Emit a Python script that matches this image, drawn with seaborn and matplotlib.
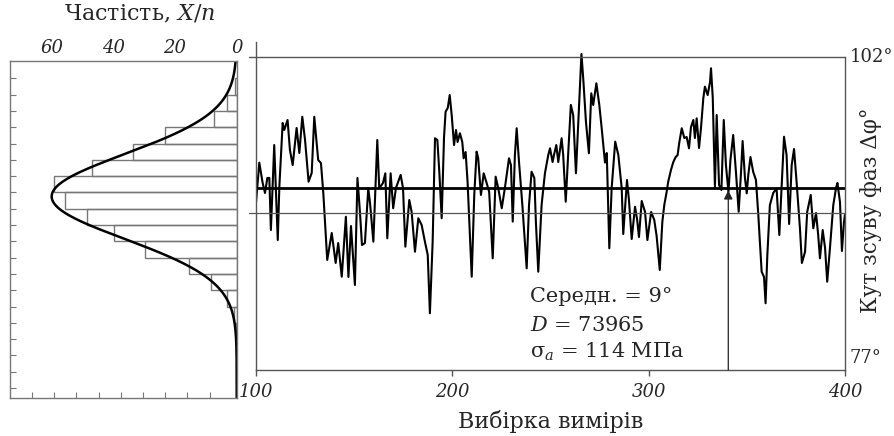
import numpy as np
import pandas as pd
import matplotlib
matplotlib.use("Agg")
import matplotlib.pyplot as plt
import matplotlib.transforms as mtransforms
import seaborn as sns

# ---------------- data ----------------
sample_idx = [100.0, 101.7, 103.4, 104.6, 105.8, 106.8, 107.6, 109.3, 111.1, 111.9,
              113.6, 114.4, 116.1, 117.3, 118.7, 120.7, 122.1, 123.6, 125.0, 126.8,
              128.4, 129.7, 131.7, 133.1, 134.3, 136.3, 138.6, 140.6, 141.9, 143.7,
              145.8, 147.1, 148.4, 150.4, 151.7, 153.0, 154.0, 155.5, 157.2, 158.1,
              159.8, 161.8, 162.8, 164.7, 165.9, 166.9, 168.6, 169.9, 171.3, 173.7,
              174.9, 176.1, 178.1, 179.3, 181.0, 182.7, 184.4, 186.1, 187.5, 188.6,
              190.0, 191.2, 192.4, 193.4, 194.6, 195.8, 196.6, 197.7, 198.7, 199.7,
              200.9, 201.9, 202.7, 203.9, 205.1, 205.8, 206.8, 207.8, 208.7, 209.9,
              211.2, 212.4, 213.2, 214.6, 216.0, 217.5, 218.8, 220.6, 222.1, 223.4,
              225.2, 226.8, 228.9, 229.9, 230.8, 231.9, 232.8, 234.0, 235.7, 237.9,
              239.1, 240.4, 241.8, 242.6, 243.8, 245.5, 247.2, 248.9, 249.8, 251.1,
              251.8, 253.0, 254.0, 255.7, 256.5, 257.8, 259.1, 260.4, 261.6, 263.0,
              264.2, 265.8, 266.7, 268.1, 269.6, 270.8, 271.8, 273.4, 274.9, 276.1,
              277.8, 278.7, 280.0, 281.2, 283.0, 284.6, 286.3, 287.1, 289.0, 290.0,
              291.4, 293.1, 294.2, 295.1, 296.5, 298.2, 299.4, 301.3, 302.9, 304.1,
              305.7, 307.0, 308.0, 309.2, 310.0, 311.4, 312.6, 313.8, 314.8, 315.6,
              316.9, 318.2, 319.4, 320.6, 321.6, 322.8, 323.6, 324.5, 325.7, 326.7,
              327.9, 328.7, 330.1, 331.3, 331.8, 332.7, 333.8, 334.7, 335.9, 337.1,
              338.3, 339.4, 340.7, 341.7, 343.1, 344.5, 345.9, 347.1, 347.9, 349.1,
              350.0, 350.8, 351.9, 353.3, 354.7, 355.9, 357.6, 358.8, 359.6, 360.5,
              361.8, 363.5, 365.2, 366.6, 367.8, 369.0, 370.3, 371.6, 372.9, 374.1,
              375.4, 377.1, 378.1, 379.7, 380.8, 382.6, 383.9, 385.3, 386.4, 387.3,
              388.7, 389.9, 391.0, 392.4, 394.1, 395.5, 396.2, 397.5, 398.5, 399.5, 400.0]

phase_deg = [90.34, 93.56, 91.94, 91.14, 92.34, 92.34, 88.18, 94.97, 87.38, 91.62,
             96.73, 96.17, 96.97, 94.57, 93.37, 96.33, 94.33, 97.23, 95.37, 92.04,
             92.74, 97.23, 93.77, 93.53, 91.14, 85.79, 87.94, 85.55, 87.14, 84.45,
             89.24, 84.43, 88.50, 83.79, 92.34, 89.54, 86.98, 87.14, 91.51, 90.34,
             87.25, 95.37, 91.51, 91.94, 92.71, 87.52, 92.71, 89.92, 91.54, 92.58,
             91.54, 86.85, 90.58, 89.62, 86.45, 89.12, 88.58, 87.22, 86.19, 81.53,
             87.22, 95.51, 95.37, 92.82, 89.12, 95.61, 97.63, 97.93, 98.96, 97.37,
             94.97, 96.17, 95.21, 95.91, 95.21, 93.91, 94.41, 92.02, 88.82, 84.45,
             90.98, 94.44, 93.93, 90.98, 92.71, 91.94, 91.22, 85.92, 92.44, 91.54,
             89.92, 91.54, 93.91, 93.37, 88.85, 94.17, 96.31, 93.61, 90.18, 85.12,
             90.18, 92.84, 92.34, 88.82, 84.85, 90.18, 92.71, 94.17, 94.71, 93.61,
             94.17, 94.97, 93.61, 95.51, 94.17, 90.44, 94.41, 98.17, 97.37, 92.71,
             96.81, 102.24, 100.32, 96.81, 94.31, 99.10, 98.17, 99.90, 98.17, 96.33,
             93.57, 94.33, 86.72, 91.54, 95.24, 94.17, 91.54, 87.86, 92.18, 90.58,
             87.46, 90.04, 88.98, 87.62, 90.50, 89.62, 87.38, 89.62, 88.98, 87.70,
             84.99, 88.82, 90.18, 91.22, 92.04, 92.97, 93.61, 94.01, 94.17, 95.13,
             96.31, 95.53, 95.61, 94.71, 96.41, 96.97, 95.53, 97.10, 94.73, 96.33,
             98.73, 99.63, 98.96, 100.00, 101.10, 98.73, 91.62, 97.37, 91.78, 91.38,
             96.97, 93.37, 91.22, 93.77, 95.77, 92.82, 89.64, 92.82, 95.29, 92.34,
             91.11, 92.58, 94.01, 92.82, 92.18, 89.38, 84.85, 84.43, 82.33, 86.19,
             90.18, 91.14, 91.51, 87.78, 91.78, 95.63, 94.17, 88.66, 93.37, 94.65,
             92.02, 88.34, 85.55, 86.43, 89.62, 90.98, 88.32, 89.54, 87.78, 85.92,
             88.18, 86.75, 84.05, 86.75, 90.18, 91.54, 91.94, 90.42, 86.51, 88.74, 89.38]

mean_level = 91.5          # thick horizontal line
mid_level = 89.5           # thin reference line
top_level = 102
bottom_level = 77
marker_sample = 340.6      # vertical pointer

x_ticks = [100, 200, 300, 400]

# histogram (left panel): class number (bottom -> top) and frequency X/n
hist_class = list(range(1, 17))
hist_freq = [0.3, 0.8, 3.2, 8.5, 15.6, 29.6, 39.9, 48.6, 55.6, 59.1,
             46.8, 33.7, 23.4, 7.5, 3.2, 0.55]
freq_ticks = [60, 40, 20, 0]

# fitted normal curve parameters
fit_peak = 60.0
fit_center = 9.25
fit_sigma = 2.6

stats_lines = ["Середн. = 9°", "$D$ = 73965", "σ$_{a}$ = 114 МПа"]

# ---------------- style ----------------
sns.set_theme(style="white")
plt.rcParams["font.family"] = ["DejaVu Serif"]
plt.rcParams["mathtext.fontset"] = "dejavuserif"

GREY = "#555555"

fig = plt.figure(figsize=(8.95, 4.36), dpi=100)
axL = fig.add_axes([0.0112, 0.0872, 0.2533, 0.7728])
axR = fig.add_axes([0.286, 0.1514, 0.658, 0.7523])

# ---------------- right panel ----------------
df = pd.DataFrame({"sample": sample_idx, "phase": phase_deg})
sns.lineplot(data=df, x="sample", y="phase", ax=axR, color="black",
             lw=1.5, sort=False, estimator=None)

axR.set_xlim(100, 400)
axR.set_ylim(bottom_level, 103.2)

axR.axhline(top_level, xmin=-0.012, xmax=1, color=GREY, lw=1.0, clip_on=False)
axR.axhline(mid_level, xmin=-0.012, xmax=1, color=GREY, lw=0.9, clip_on=False)
axR.axhline(mean_level, color="black", lw=2.0)

axR.annotate("", xy=(marker_sample, mean_level - 0.15), xytext=(marker_sample, bottom_level),
             arrowprops=dict(arrowstyle="-|>", color="#222222", lw=0.9,
                             mutation_scale=13, shrinkA=0, shrinkB=0))

for sp in ["left", "bottom", "right"]:
    axR.spines[sp].set_color(GREY)
    axR.spines[sp].set_linewidth(1.0)
axR.spines["top"].set_visible(False)
axR.spines["right"].set_bounds(bottom_level, top_level)

axR.set_xticks(x_ticks)
axR.set_xticklabels([str(t) for t in x_ticks], fontstyle="italic", fontsize=13)
axR.tick_params(axis="x", direction="out", length=4.5, width=1, color=GREY, pad=5,
                bottom=True)
axR.set_yticks([])
axR.set_xlabel("Вибірка вимірів", fontsize=16, labelpad=6)
axR.set_ylabel("")

trans = mtransforms.blended_transform_factory(axR.transAxes, axR.transData)
axR.text(1.008, top_level, "102°", transform=trans, ha="left", va="center", fontsize=13)
axR.text(1.008, bottom_level + 0.2, "77°", transform=trans, ha="left", va="bottom",
         fontsize=13)

text_y = [82.43, 80.1, 77.95]
for line, yy in zip(stats_lines, text_y):
    axR.text(239.6, yy, line, fontsize=15, ha="left", va="baseline")

fig.text(0.973, 0.518, "Кут зсуву фаз Δφ°", rotation=90, ha="center", va="center",
         fontsize=15.5)

# ---------------- left panel ----------------
hist_df = pd.DataFrame({"cls": hist_class, "freq": hist_freq})
sns.barplot(data=hist_df, x="freq", y="cls", orient="h", native_scale=True,
            width=1.0, fill=False, color="#777777", linewidth=1.0,
            errorbar=None, ax=axL)

ygrid = np.linspace(-3.2, 17.7, 400)
curve = fit_peak * np.exp(-0.5 * ((ygrid - fit_center) / fit_sigma) ** 2)
axL.plot(curve, ygrid, color="black", lw=1.8)

axL.set_xlim(73.5, 0)
axL.set_ylim(-3.11, 17.56)
axL.set_xlabel("")
axL.set_ylabel("")

for sp in axL.spines.values():
    sp.set_visible(True)
    sp.set_color("#777777")
    sp.set_linewidth(1.0)

axL.xaxis.tick_top()
axL.set_xticks(freq_ticks)
axL.set_xticklabels([str(t) for t in freq_ticks], fontstyle="italic", fontsize=13)
axL.set_xticks(np.arange(8.8, 70, 7.2), minor=True)
axL.tick_params(axis="x", which="major", top=True, labeltop=True, bottom=False,
                labelbottom=False, length=0, pad=3)
axL.tick_params(axis="x", which="minor", top=False, bottom=True, direction="in",
                length=4, width=0.8, color="#777777")
axL.set_yticks(np.arange(-2.5, 17.0, 1.0))
axL.tick_params(axis="y", which="major", left=True, right=False, labelleft=False,
                direction="in", length=4, width=0.8, color="#777777")

fig.text(0.156, 0.966, "Частість, $X/n$", ha="center", va="center", fontsize=16)

fig.savefig("out.png", dpi=100)
